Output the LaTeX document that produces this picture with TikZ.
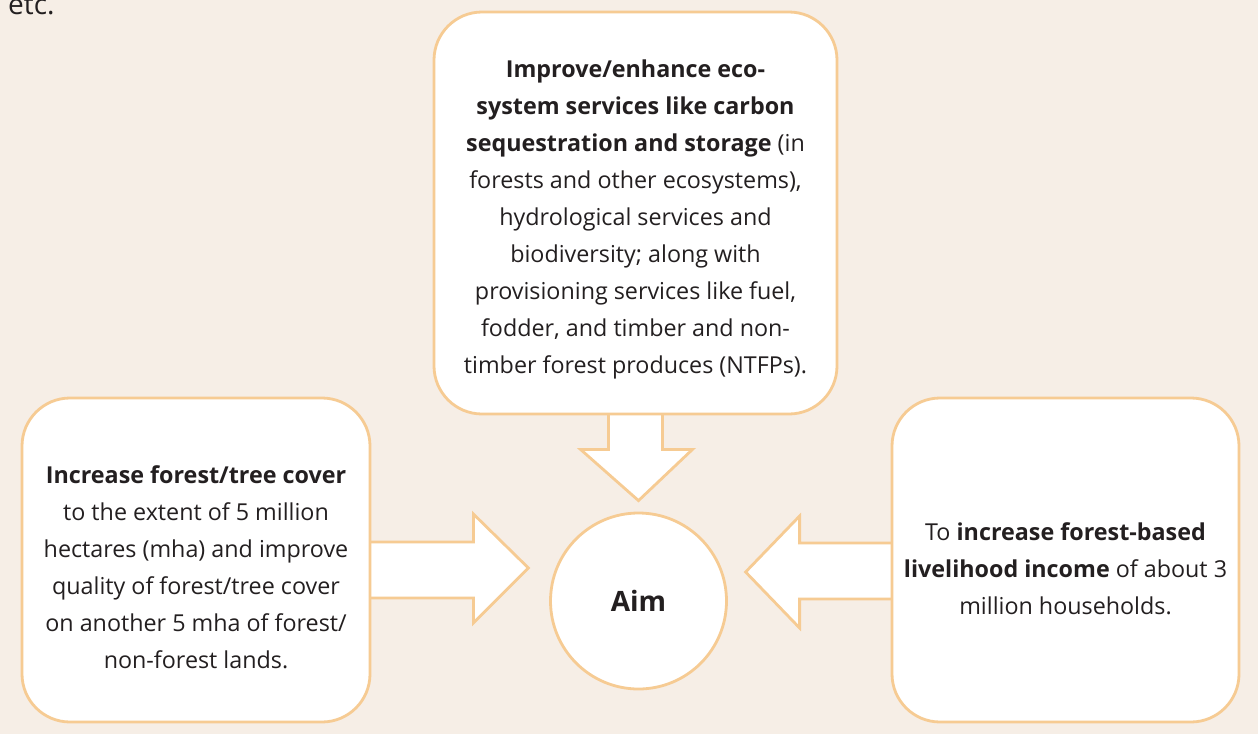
\documentclass[tikz,border=0pt]{standalone}
\usepackage{fontspec}
\setmainfont{Open Sans}
\usetikzlibrary{calc}
\definecolor{bgc}{HTML}{F6EEE6}
\definecolor{edge}{HTML}{F6CB93}
\definecolor{ink}{HTML}{231F20}
\pgfdeclarelayer{bg}
\pgfsetlayers{bg,main}
\begin{document}
\begin{tikzpicture}[x=1pt,y=-1pt,
  box/.style={draw=edge, line width=2.8pt, fill=white, rounded corners=48pt, align=center, inner sep=0pt, text=ink, font=\fontsize{23.3}{37}\selectfont},
  arr/.style={draw=edge, line width=2.8pt, fill=white, line join=miter}]
\useasboundingbox (0,0) rectangle (1258,734);
\node[box, minimum width=403, minimum height=402] (top) at (635.5,213)
  {\rule{0pt}{31pt}\textbf{Improve/enhance eco-}\\
   \textbf{system services like carbon}\\
   \textbf{sequestration and storage} (in\\
   forests and other ecosystems),\\
   hydrological services and\\
   biodiversity; along with\\
   provisioning services like fuel,\\
   fodder, and timber and non-\\
   timber forest produces (NTFPs).};
\node[box, minimum width=348, minimum height=324] (left) at (196,560)
  {\rule{0pt}{33pt}\textbf{Increase forest/tree cover}\\
   to the extent of 5 million\\
   hectares (mha) and improve\\
   quality of forest/tree cover\\
   on another 5 mha of forest/\\
   non-forest lands.};
\node[box, minimum width=347, minimum height=324] (right) at (1065.5,560)
  {\rule{0pt}{35pt}To \textbf{increase forest-based}\\
   \textbf{livelihood income} of about 3\\
   million households.};
\node[draw=edge, line width=2.8pt, fill=white, circle, minimum size=176, inner sep=0pt, text=ink, font=\fontsize{28}{32}\selectfont\bfseries] (aim) at (638.5,601) {Aim};
\node[anchor=base west, inner sep=0pt, text=ink, font=\fontsize{28}{32}\selectfont] (etc) at (8,14) {etc.};
\begin{pgfonlayer}{bg}
\fill[bgc] (0,0) rectangle (1258,734);
\draw[arr] ($(top.south)+(-27,-6)$) -- ($(top.south)+(-27,34)$) -- ($(top.south)+(-55,34)$)
  -- ($(aim.north)+(0,-11)$) -- ($(top.south)+(57,34)$) -- ($(top.south)+(27,34)$)
  -- ($(top.south)+(27,-6)$) -- cycle;
\draw[arr] ($(left.east)+(-6,-18)$) -- ($(left.east)+(102,-18)$) -- ($(left.east)+(102,-46)$)
  -- ($(left.east)+(157,8)$) -- ($(left.east)+(102,63)$) -- ($(left.east)+(102,38)$)
  -- ($(left.east)+(-6,38)$) -- cycle;
\draw[arr] ($(right.west)+(6,-17)$) -- ($(right.west)+(-91,-17)$) -- ($(right.west)+(-91,-44)$)
  -- ($(right.west)+(-145,12)$) -- ($(right.west)+(-91,68)$) -- ($(right.west)+(-91,39)$)
  -- ($(right.west)+(6,39)$) -- cycle;
\end{pgfonlayer}
\end{tikzpicture}
\end{document}
